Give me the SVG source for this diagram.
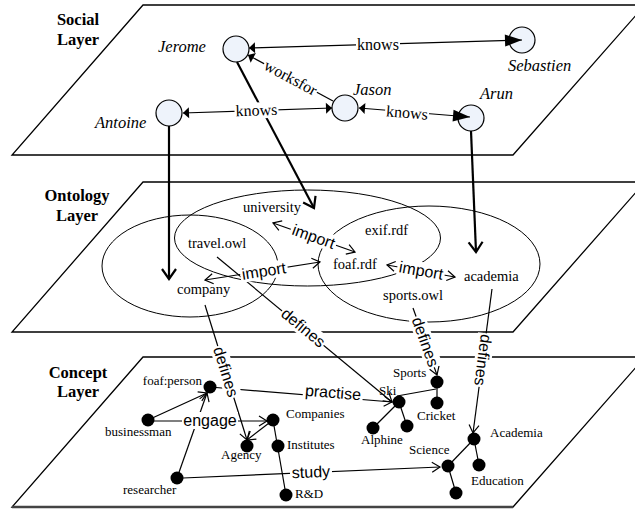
<svg xmlns="http://www.w3.org/2000/svg" width="635" height="510" viewBox="0 0 635 510">
<style>
.layer{fill:#fff;stroke:#000;stroke-width:1.3}
.ell{fill:none;stroke:#000;stroke-width:1}
.e{fill:none;stroke:#000;stroke-width:1.2}
.thick{fill:none;stroke:#000;stroke-width:2.2}
.bg{fill:#fff}
.lt{font-family:"Liberation Serif",serif;font-weight:bold;font-size:16.5px}
.pn{font-family:"Liberation Serif",serif;font-style:italic;font-size:16.5px}
.sl{font-family:"Liberation Serif",serif;font-size:16px}
.al{font-family:"Liberation Sans",Arial,sans-serif;font-size:16px}
.on{font-family:"Liberation Serif",serif;font-size:14.5px}
.cn{font-family:"Liberation Serif",serif;font-size:13px}
.sn{fill:#eef3fb;stroke:#000;stroke-width:1.2}
.cd{fill:#000}
</style>
<defs>
<marker id="fs" viewBox="-8 -8 10 16" refX="0" refY="0" markerWidth="10" markerHeight="16" markerUnits="userSpaceOnUse" orient="auto-start-reverse"><path d="M-6,-5.5 L0,0 L-6,5.5 z" fill="#000"/></marker>
<marker id="fb" viewBox="-19 -8 21 16" refX="0" refY="0" markerWidth="21" markerHeight="16" markerUnits="userSpaceOnUse" orient="auto"><path d="M-17,-6 L0,0 L-17,6 z" fill="#000"/></marker>
<marker id="vt" viewBox="-11 -7 13 14" refX="0" refY="0" markerWidth="13" markerHeight="14" markerUnits="userSpaceOnUse" orient="auto-start-reverse"><path d="M-8,-5 L0,0 L-8,5" fill="none" stroke="#000" stroke-width="1.2"/></marker>
<marker id="vk" viewBox="-13 -10 16 20" refX="0" refY="0" markerWidth="16" markerHeight="20" markerUnits="userSpaceOnUse" orient="auto"><path d="M-10,-7 L0,0 L-10,7" fill="none" stroke="#000" stroke-width="2.2"/></marker>
</defs>

<g id="layers">
<polygon class="layer" points="143,5 645,5 513,155 12,155"/>
<polygon class="layer" points="143,182 645,182 513,332 12,332"/>
<polygon class="layer" points="143,357 645,357 513,507 12,507"/>
<line x1="12" y1="507" x2="513" y2="507" stroke="#444" stroke-width="2.6"/>
<text class="lt" x="78" y="25" text-anchor="middle">Social</text>
<text class="lt" x="78" y="45" text-anchor="middle">Layer</text>
<text class="lt" x="77" y="201" text-anchor="middle">Ontology</text>
<text class="lt" x="77" y="221" text-anchor="middle">Layer</text>
<text class="lt" x="78" y="378" text-anchor="middle">Concept</text>
<text class="lt" x="78" y="397" text-anchor="middle">Layer</text>
</g>

<g id="jerome"><circle class="sn" cx="236" cy="49" r="13"/><text class="pn" x="158" y="52">Jerome</text></g>
<g id="antoine"><circle class="sn" cx="169" cy="113" r="13"/><text class="pn" x="95" y="128">Antoine</text></g>
<g id="jason"><circle class="sn" cx="345" cy="108" r="13"/><text class="pn" x="353" y="95">Jason</text></g>
<g id="arun"><circle class="sn" cx="471" cy="118" r="13"/><text class="pn" x="480" y="99">Arun</text></g>
<g id="sebastien"><circle class="sn" cx="522" cy="40" r="13"/><text class="pn" x="508" y="71">Sebastien</text></g>

<g id="travel-owl"><ellipse class="ell" cx="190" cy="266" rx="88" ry="51"/><text class="on" x="188" y="248">travel.owl</text><text class="on" x="177" y="294">company</text></g>
<g id="university-ont"><ellipse class="ell" cx="307.5" cy="238" rx="133" ry="48"/><text class="on" x="243" y="212">university</text></g>
<g id="sports-owl"><ellipse class="ell" cx="429" cy="264" rx="111" ry="58"/><text class="on" x="365" y="235">exif.rdf</text><text class="on" x="333" y="269">foaf.rdf</text><text class="on" x="464" y="281">academia</text><text class="on" x="383" y="300">sports.owl</text></g>

<g id="connectors">
<line class="e" x1="249" y1="48" x2="522" y2="40" marker-start="url(#fs)" marker-end="url(#fb)"/>
<line class="e" x1="333" y1="101" x2="248" y2="55" marker-end="url(#fs)"/>
<line class="e" x1="183" y1="113" x2="332" y2="108" marker-start="url(#fs)" marker-end="url(#fs)"/>
<line class="e" x1="359" y1="108" x2="470" y2="117" marker-start="url(#fs)" marker-end="url(#fb)"/>
<line class="thick" x1="169" y1="126" x2="169" y2="279" marker-end="url(#vk)"/>
<line class="thick" x1="237" y1="62" x2="314" y2="208" marker-end="url(#vk)"/>
<line class="thick" x1="471" y1="131" x2="476" y2="252" marker-end="url(#vk)"/>
<line class="e" x1="273" y1="223" x2="355" y2="252" marker-start="url(#vt)" marker-end="url(#vt)"/>
<line class="e" x1="320" y1="262" x2="205" y2="280" marker-start="url(#vt)" marker-end="url(#vt)"/>
<line class="e" x1="387" y1="265" x2="455" y2="277" marker-start="url(#vt)" marker-end="url(#vt)"/>
<line class="e" x1="205" y1="305" x2="247" y2="440" marker-end="url(#vt)"/>
<line class="e" x1="217" y1="257" x2="392" y2="402" marker-end="url(#vt)"/>
<line class="e" x1="413" y1="308" x2="437" y2="375" marker-end="url(#vt)"/>
<line class="e" x1="492" y1="289" x2="473" y2="433" marker-end="url(#vt)"/>
<line class="e" x1="148" y1="420" x2="207" y2="393" marker-end="url(#vt)"/>
<line class="e" x1="177" y1="478" x2="207" y2="393" marker-end="url(#vt)"/>
<line class="e" x1="148" y1="421" x2="267" y2="421" marker-end="url(#vt)"/>
<line class="e" x1="273" y1="420" x2="247" y2="440" marker-end="url(#vt)"/>
<line class="e" x1="273" y1="420" x2="286" y2="495"/>
<line class="e" x1="210" y1="387" x2="392" y2="402" marker-end="url(#vt)"/>
<line class="e" x1="397" y1="396" x2="436" y2="389"/>
<line class="e" x1="437" y1="382" x2="437" y2="403"/>
<line class="e" x1="399" y1="402" x2="373" y2="428"/>
<line class="e" x1="399" y1="402" x2="407" y2="426"/>
<line class="e" x1="474" y1="439" x2="448" y2="466"/>
<line class="e" x1="474" y1="439" x2="479" y2="465"/>
<line class="e" x1="448" y1="466" x2="456" y2="493"/>
<line class="e" x1="183" y1="478" x2="440" y2="467" marker-end="url(#vt)"/>
<g transform="translate(378,44.5)"><rect class="bg" x="-22" y="-8" width="44" height="16"/><text class="sl" y="5" text-anchor="middle">knows</text></g>
<g transform="translate(290.5,78) rotate(28.4)"><rect class="bg" x="-30" y="-8" width="60" height="16"/><text class="sl" y="5" text-anchor="middle">worksfor</text></g>
<g transform="translate(256.5,110.5) rotate(-1.9)"><rect class="bg" x="-22" y="-8" width="44" height="16"/><text class="sl" y="5" text-anchor="middle">knows</text></g>
<g transform="translate(407,113) rotate(4.6)"><rect class="bg" x="-22" y="-8" width="44" height="16"/><text class="sl" y="5" text-anchor="middle">knows</text></g>
<g transform="translate(313.5,237) rotate(19.5)"><rect class="bg" x="-24" y="-9" width="48" height="17"/><text class="al" y="5" text-anchor="middle">import</text></g>
<g transform="translate(264,271.5) rotate(-8.9)"><rect class="bg" x="-24" y="-9" width="48" height="17"/><text class="al" y="5" text-anchor="middle">import</text></g>
<g transform="translate(421,271) rotate(10)"><rect class="bg" x="-24" y="-9" width="48" height="17"/><text class="al" y="5" text-anchor="middle">import</text></g>
<g transform="translate(225.5,372) rotate(72.7)"><rect class="bg" x="-27" y="-9" width="54" height="17"/><text class="al" y="5" text-anchor="middle">defines</text></g>
<g transform="translate(303,328) rotate(39.6)"><rect class="bg" x="-27" y="-9" width="54" height="17"/><text class="al" y="5" text-anchor="middle">defines</text></g>
<g transform="translate(425,342) rotate(70.3)"><rect class="bg" x="-27" y="-9" width="54" height="17"/><text class="al" y="5" text-anchor="middle">defines</text></g>
<g transform="translate(482.5,360) rotate(97.5)"><rect class="bg" x="-27" y="-9" width="54" height="17"/><text class="al" y="5" text-anchor="middle">defines</text></g>
<g transform="translate(210,421)"><rect class="bg" x="-28" y="-9" width="56" height="17"/><text class="al" y="5" text-anchor="middle">engage</text></g>
<g transform="translate(333,393) rotate(4.7)"><rect class="bg" x="-30" y="-9" width="60" height="17"/><text class="al" y="5" text-anchor="middle">practise</text></g>
<g transform="translate(311,472.5) rotate(-2.5)"><rect class="bg" x="-21" y="-9" width="42" height="17"/><text class="al" y="5" text-anchor="middle">study</text></g>
</g>

<g id="foaf-person"><circle class="cd" cx="210" cy="387" r="6.5"/><text class="cn" x="202" y="385" text-anchor="end">foaf:person</text></g>
<g id="businessman"><circle class="cd" cx="148" cy="420" r="6.5"/><text class="cn" x="105" y="436">businessman</text></g>
<g id="companies"><circle class="cd" cx="273" cy="420" r="6.5"/><text class="cn" x="286" y="418">Companies</text></g>
<g id="agency"><circle class="cd" cx="247" cy="446" r="6.5"/><text class="cn" x="221" y="459">Agency</text></g>
<g id="institutes"><circle class="cd" cx="278" cy="446" r="6.5"/><text class="cn" x="287" y="449">Institutes</text></g>
<g id="researcher"><circle class="cd" cx="177" cy="478" r="6.5"/><text class="cn" x="123" y="494">researcher</text></g>
<g id="rnd"><circle class="cd" cx="286" cy="495" r="6.5"/><text class="cn" x="295" y="498">R&amp;D</text></g>
<g id="sports"><circle class="cd" cx="437" cy="382" r="6.5"/><text class="cn" x="393" y="377">Sports</text></g>
<g id="ski"><circle class="cd" cx="399" cy="402" r="6.5"/><text class="cn" x="379" y="395">Ski</text></g>
<g id="cricket"><circle class="cd" cx="437" cy="403" r="6.5"/><text class="cn" x="417" y="420">Cricket</text></g>
<g id="alphine"><circle class="cd" cx="373" cy="428" r="6.5"/><text class="cn" x="361" y="444">Alphine</text></g>
<g id="ski-child"><circle class="cd" cx="407" cy="426" r="6.5"/></g>
<g id="academia"><circle class="cd" cx="474" cy="439" r="6.5"/><text class="cn" x="490" y="437">Academia</text></g>
<g id="science"><circle class="cd" cx="448" cy="466" r="6.5"/><text class="cn" x="409" y="454">Science</text></g>
<g id="education"><circle class="cd" cx="479" cy="465" r="6.5"/><text class="cn" x="471" y="485">Education</text></g>
<g id="science-child"><circle class="cd" cx="456" cy="493" r="6.5"/></g>
</svg>
